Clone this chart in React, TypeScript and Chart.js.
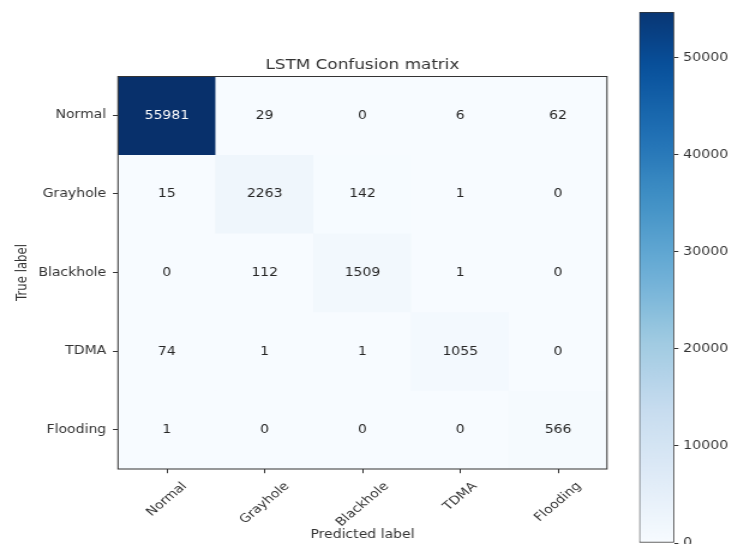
import React, { useEffect, useRef } from 'react';
import { Chart, registerables } from 'chart.js';

Chart.register(...registerables);

// ---------- data ----------
const TITLE = 'LSTM Confusion matrix';
const TRUE_LABELS = ['Normal', 'Grayhole', 'Blackhole', 'TDMA', 'Flooding'];
const PRED_LABELS = ['Normal', 'Grayhole', 'Blackhole', 'TDMA', 'Flooding'];
const ROW_NORMAL = [55981, 29, 0, 6, 62];
const ROW_GRAYHOLE = [15, 2263, 142, 1, 0];
const ROW_BLACKHOLE = [0, 112, 1509, 1, 0];
const ROW_TDMA = [74, 1, 1, 1055, 0];
const ROW_FLOODING = [1, 0, 0, 0, 566];
const COLORBAR_TICKS = [0, 10000, 20000, 30000, 40000, 50000];
const COLORBAR_TOP = 54740;

const ROWS = [ROW_NORMAL, ROW_GRAYHOLE, ROW_BLACKHOLE, ROW_TDMA, ROW_FLOODING];
const VMAX = Math.max(...ROWS.map((r) => Math.max(...r)));

// ---------- style ----------
const S = 1.2; // horizontal stretch of the reference picture
const FONT = "'DejaVu Sans', sans-serif";
const TXT = '#333333';
const FS = 11.7;

const BLUES = ['#f7fbff', '#deebf7', '#c6dbef', '#9ecae1', '#6baed6', '#4292c6', '#2171b5', '#08519c', '#08306b'];
function hex(h: string) {
  return [parseInt(h.slice(1, 3), 16), parseInt(h.slice(3, 5), 16), parseInt(h.slice(5, 7), 16)];
}
function blues(t: number) {
  const tt = Math.max(0, Math.min(1, t));
  const n = BLUES.length - 1;
  const p = tt * n;
  const i = Math.min(Math.floor(p), n - 1);
  const f = p - i;
  const a = hex(BLUES[i]);
  const b = hex(BLUES[i + 1]);
  const c = a.map((v, k) => Math.round(v + (b[k] - v) * f));
  return `rgb(${c[0]},${c[1]},${c[2]})`;
}

const M_W = 515;
const M_H = 544;
const AREA_L = 98.3;
const AREA_R = 505.8;
const AREA_B = 469;

const matrixPlugin = {
  id: 'matrixDecor',
  afterDatasetsDraw(chart: any) {
    const ctx = chart.ctx;
    ctx.save();
    ctx.font = `${FS}px ${FONT}`;
    ctx.textAlign = 'center';
    ctx.textBaseline = 'middle';
    chart.data.datasets.forEach((_ds: any, r: number) => {
      const meta = chart.getDatasetMeta(r);
      meta.data.forEach((el: any, c: number) => {
        const v = ROWS[r][c];
        const p = el.getProps(['x', 'y', 'base'], true);
        ctx.fillStyle = v > VMAX / 2 ? '#ffffff' : '#262626';
        ctx.fillText(String(v), p.x, (p.y + p.base) / 2 + 0.5);
      });
    });
    const { left, top, right, bottom } = chart.chartArea;
    ctx.strokeStyle = TXT;
    ctx.lineWidth = 1;
    ctx.strokeRect(left, top + 0.5, right - left, bottom - top - 0.5);
    // rotated, centred x tick labels (matplotlib style)
    const xs = chart.scales.x;
    ctx.fillStyle = TXT;
    PRED_LABELS.forEach((lab, i) => {
      const px = xs.getPixelForTick(i);
      const w = ctx.measureText(lab).width;
      const h = FS * 1.15;
      const cy = bottom + 4.2 + 6.5 + ((w + h) * Math.SQRT1_2) / 2;
      ctx.save();
      ctx.translate(px, cy);
      ctx.rotate(-Math.PI / 4);
      ctx.fillText(lab, 0, 0);
      ctx.restore();
    });
    ctx.restore();
  },
};

const C_W = 88;
const C_H = 560;

export default function App() {
  const mRef = useRef<HTMLCanvasElement | null>(null);
  const cRef = useRef<HTMLCanvasElement | null>(null);

  useEffect(() => {
    if (!mRef.current || !cRef.current) return;
    const font = { family: FONT, size: FS };

    const matrix = new Chart(mRef.current, {
      type: 'bar',
      data: {
        labels: PRED_LABELS,
        datasets: ROWS.map((row, r) => ({
          label: TRUE_LABELS[r],
          data: row.map(() => [r, r + 1]),
          backgroundColor: row.map((v) => blues(v / VMAX)),
          borderWidth: 0,
          barPercentage: 1,
          categoryPercentage: 1,
          grouped: false,
        })),
      } as any,
      plugins: [matrixPlugin],
      options: {
        responsive: false,
        animation: false,
        layout: { padding: { top: 57.2, left: 0, right: M_W - AREA_R, bottom: 0 } },
        plugins: {
          legend: { display: false },
          tooltip: { enabled: false },
          title: {
            display: true,
            text: TITLE,
            fullSize: false,
            color: TXT,
            font: { family: FONT, size: 14, weight: 'normal' },
            padding: { top: 0, bottom: 2 },
          },
        },
        scales: {
          x: {
            type: 'category',
            offset: true,
            grid: { offset: false, drawOnChartArea: false, drawTicks: true, tickLength: 4.2, color: TXT },
            border: { display: false },
            ticks: { display: false },
            title: { display: true, text: 'Predicted label', color: TXT, font, padding: { top: 0, bottom: 2 } },
            afterFit: (s: any) => {
              s.height = M_H - AREA_B;
            },
          },
          y: {
            type: 'linear',
            min: 0,
            max: TRUE_LABELS.length,
            reverse: true,
            afterBuildTicks: (s: any) => {
              s.ticks = TRUE_LABELS.map((_l, i) => ({ value: i + 0.5 }));
            },
            ticks: {
              autoSkip: false,
              color: TXT,
              font,
              padding: 5.6,
              callback: (v: any) => TRUE_LABELS[Math.floor(Number(v))],
            },
            grid: { drawOnChartArea: false, tickLength: 4.2, color: TXT },
            border: { display: false },
            title: { display: true, text: 'True label', color: TXT, font, padding: { top: 12.2, bottom: 0 } },
            afterFit: (s: any) => {
              s.width = AREA_L;
            },
          },
        },
      } as any,
    });

    const colorbar = new Chart(cRef.current, {
      type: 'bar',
      data: {
        labels: [''],
        datasets: [
          {
            data: [[0, COLORBAR_TOP]],
            backgroundColor: (c: any) => {
              const chart = c.chart;
              if (!chart.chartArea) return BLUES[0];
              const ys = chart.scales.y;
              const y0 = ys.getPixelForValue(0);
              const y1 = ys.getPixelForValue(COLORBAR_TOP);
              const g = chart.ctx.createLinearGradient(0, y0, 0, y1);
              for (let i = 0; i <= 32; i++) {
                const t = i / 32;
                g.addColorStop(t, blues((t * COLORBAR_TOP) / VMAX));
              }
              return g;
            },
            borderColor: TXT,
            borderWidth: 1,
            borderSkipped: false,
            barPercentage: 1,
            categoryPercentage: 1,
          },
        ],
      } as any,
      options: {
        responsive: false,
        animation: false,
        layout: { padding: { left: 11.7, top: 12, bottom: C_H - 543, right: 0 } },
        plugins: { legend: { display: false }, tooltip: { enabled: false }, title: { display: false } },
        scales: {
          x: { display: false },
          y: {
            position: 'right',
            min: 0,
            max: COLORBAR_TOP,
            afterBuildTicks: (s: any) => {
              s.ticks = COLORBAR_TICKS.map((v) => ({ value: v }));
            },
            ticks: { color: TXT, font: { family: FONT, size: 11.8 }, padding: 4, callback: (v: any) => String(v) },
            grid: { drawOnChartArea: false, tickLength: 3.5, color: TXT },
            border: { display: false },
            afterFit: (s: any) => {
              s.width = C_W - 40.8;
            },
          },
        },
      } as any,
    });

    return () => {
      matrix.destroy();
      colorbar.destroy();
    };
  }, []);

  return (
    <div
      style={{
        position: 'absolute',
        left: 0,
        top: 0,
        width: 730,
        height: 544,
        overflow: 'hidden',
        background: '#ffffff',
      }}
    >
      <canvas
        ref={mRef}
        width={M_W}
        height={M_H}
        style={{ position: 'absolute', left: 0, top: 0, width: M_W * S, height: M_H }}
      />
      <canvas
        ref={cRef}
        width={C_W}
        height={C_H}
        style={{ position: 'absolute', left: 625, top: 0, width: C_W * S, height: C_H }}
      />
    </div>
  );
}
